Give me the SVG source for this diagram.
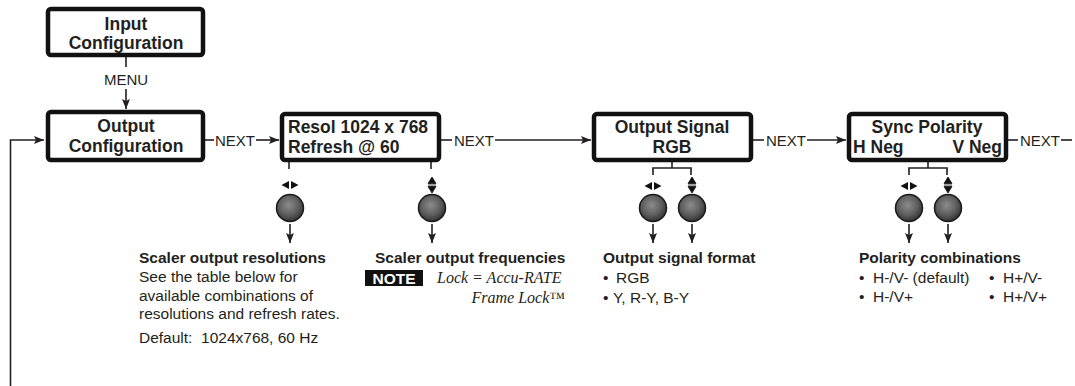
<svg xmlns="http://www.w3.org/2000/svg" width="1075" height="386" viewBox="0 0 1075 386">
<style>
.box{fill:#fff;stroke:#111;stroke-width:4.5}
.bt{font-family:"Liberation Sans",Arial,sans-serif;font-weight:bold;font-size:17.5px;fill:#231f20}
.nx{font-family:"Liberation Sans",Arial,sans-serif;font-size:15px;fill:#231f20}
.ln{stroke:#231f20;stroke-width:1.6;fill:none}
.ttl{font-family:"Liberation Sans",Arial,sans-serif;font-weight:bold;font-size:15.5px;fill:#231f20}
.bd{font-family:"Liberation Sans",Arial,sans-serif;font-size:15.5px;fill:#231f20}
.it{font-family:"Liberation Serif","Times New Roman",serif;font-style:italic;font-size:16px;fill:#231f20}
.knob{fill:url(#kg);stroke:#1a1a1a;stroke-width:1.5}
.ic{fill:#111}
</style>
<defs>
<marker id="ah" viewBox="0 0 10 8" refX="10" refY="4" markerWidth="10" markerHeight="8.5" markerUnits="userSpaceOnUse" orient="auto">
<path d="M0,0 L10,4 L0,8 L2,4 Z" fill="#231f20"/>
</marker>
<radialGradient id="kg" cx="45%" cy="40%" r="60%">
<stop offset="0" stop-color="#8c8c8c"/>
<stop offset="0.6" stop-color="#5e5e5e"/>
<stop offset="1" stop-color="#333"/>
</radialGradient>
<g id="lr"><path d="M-1,-4 L-1,4 L-8.5,0 Z M1,-4 L1,4 L8.5,0 Z"/></g>
<g id="ud"><path d="M-4,-1.5 L4,-1.5 L0,-8 Z M-4,1.5 L4,1.5 L0,8 Z M-4,0 L4,0" stroke="#111" stroke-width="0.8"/></g>
</defs>

<g id="connectors">
<path class="ln" d="M10.5,386 L10.5,140 L44,140" marker-end="url(#ah)" stroke-width="2"/>
<path class="ln" d="M126,57 L126,67"/>
<text class="nx" x="126" y="85" text-anchor="middle" font-size="13">MENU</text>
<path class="ln" d="M126,89 L126,109" marker-end="url(#ah)"/>
<path class="ln" d="M205,140 L214,140"/>
<text class="nx" x="215" y="145.5">NEXT</text>
<path class="ln" d="M256,140 L279,140" marker-end="url(#ah)"/>
<path class="ln" d="M441,140 L452,140"/>
<text class="nx" x="454" y="145.5">NEXT</text>
<path class="ln" d="M495,140 L591,140" marker-end="url(#ah)"/>
<path class="ln" d="M753,140 L764,140"/>
<text class="nx" x="766" y="145.5">NEXT</text>
<path class="ln" d="M807,140 L846,140" marker-end="url(#ah)"/>
<path class="ln" d="M1008,140 L1018,140"/>
<text class="nx" x="1020" y="145.5">NEXT</text>
<path class="ln" d="M1061,140 L1072,140"/>
<path class="ln" d="M289,162 L289,169"/>
<path class="ln" d="M431,162 L431,169"/>
<path class="ln" d="M672,162 L672,168 M653,175 L653,168 L691,168 L691,175"/>
<path class="ln" d="M928,162 L928,168 M909,175 L909,168 L947,168 L947,175"/>
<path class="ln" d="M290,224 L290,243" marker-end="url(#ah)"/>
<path class="ln" d="M432,224 L432,243" marker-end="url(#ah)"/>
<path class="ln" d="M653,224 L653,243" marker-end="url(#ah)"/>
<path class="ln" d="M692,224 L692,243" marker-end="url(#ah)"/>
<path class="ln" d="M909,224 L909,243" marker-end="url(#ah)"/>
<path class="ln" d="M948,224 L948,243" marker-end="url(#ah)"/>
</g>

<g id="input-config">
<rect class="box" x="48" y="9" width="155" height="46" rx="3"/>
<text class="bt" x="126" y="30" text-anchor="middle">Input</text>
<text class="bt" x="126" y="49" text-anchor="middle">Configuration</text>
</g>

<g id="output-config">
<rect class="box" x="48" y="112" width="155" height="48" rx="3"/>
<text class="bt" x="126" y="132" text-anchor="middle">Output</text>
<text class="bt" x="126" y="152" text-anchor="middle">Configuration</text>
</g>

<g id="resol">
<rect class="box" x="282" y="114" width="157" height="46" rx="3"/>
<text class="bt" x="288" y="133">Resol 1024 x 768</text>
<text class="bt" x="288" y="153">Refresh @ 60</text>
</g>

<g id="output-signal">
<rect class="box" x="594" y="114" width="157" height="46" rx="3"/>
<text class="bt" x="672" y="133" text-anchor="middle">Output Signal</text>
<text class="bt" x="672" y="153" text-anchor="middle">RGB</text>
</g>

<g id="sync-polarity">
<rect class="box" x="849" y="114" width="157" height="46" rx="3"/>
<text class="bt" x="927" y="133" text-anchor="middle">Sync Polarity</text>
<text class="bt" x="853" y="153">H Neg</text>
<text class="bt" x="1002" y="153" text-anchor="end">V Neg</text>
</g>

<g id="knob-resolution">
<use href="#lr" class="ic" x="290" y="185"/>
<circle class="knob" cx="290" cy="208" r="13.5"/>
<text class="ttl" x="139" y="263">Scaler output resolutions</text>
<text class="bd" x="139" y="282">See the table below for</text>
<text class="bd" x="139" y="301">available combinations of</text>
<text class="bd" x="139" y="319">resolutions and refresh rates.</text>
<text class="bd" x="139" y="343" xml:space="preserve">Default:  1024x768, 60 Hz</text>
</g>

<g id="knob-frequency">
<use href="#ud" class="ic" x="432" y="185"/>
<circle class="knob" cx="432" cy="208" r="13.5"/>
<text class="ttl" x="375" y="263">Scaler output frequencies</text>
<rect x="365" y="270" width="58" height="16" fill="#111"/>
<text class="ttl" x="394" y="284" text-anchor="middle" style="fill:#fff">NOTE</text>
<text class="it" x="437" y="283">Lock = Accu-RATE</text>
<text class="it" x="565" y="303" text-anchor="end">Frame Lock™</text>
</g>

<g id="knob-signal">
<use href="#lr" class="ic" x="653" y="186"/>
<use href="#ud" class="ic" x="692" y="185"/>
<circle class="knob" cx="653" cy="208" r="13.5"/>
<circle class="knob" cx="692" cy="208" r="13.5"/>
<text class="ttl" x="603" y="263">Output signal format</text>
<text class="bd" x="603" y="283">•</text>
<text class="bd" x="616" y="283">RGB</text>
<text class="bd" x="603" y="303">•</text>
<text class="bd" x="613" y="303">Y, R-Y, B-Y</text>
</g>

<g id="knob-polarity">
<use href="#lr" class="ic" x="909" y="186"/>
<use href="#ud" class="ic" x="948" y="185"/>
<circle class="knob" cx="909" cy="208" r="13.5"/>
<circle class="knob" cx="948" cy="208" r="13.5"/>
<text class="ttl" x="859" y="263">Polarity combinations</text>
<text class="bd" x="859" y="283">•</text>
<text class="bd" x="873" y="283">H-/V- (default)</text>
<text class="bd" x="859" y="302">•</text>
<text class="bd" x="873" y="302">H-/V+</text>
<text class="bd" x="989" y="283">•</text>
<text class="bd" x="1003" y="283">H+/V-</text>
<text class="bd" x="989" y="302">•</text>
<text class="bd" x="1003" y="302">H+/V+</text>
</g>
</svg>
